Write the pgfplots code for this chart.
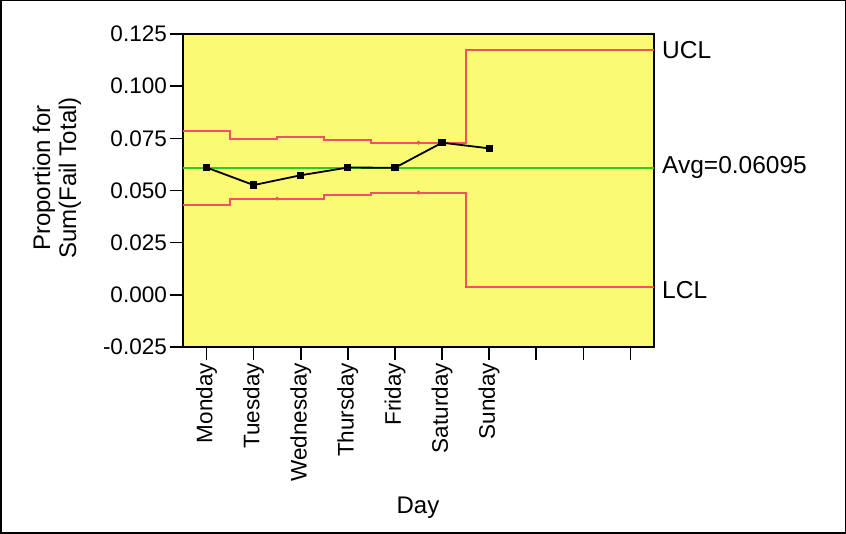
\documentclass[border=0pt]{standalone}
\usepackage{fontspec}
\setmainfont{Liberation Sans}
\usepackage{pgfplots}
\pgfplotsset{compat=1.18}
\definecolor{plotbg}{RGB}{250,250,115}
\definecolor{limred}{RGB}{240,80,105}
\definecolor{avggreen}{RGB}{40,205,40}
\begin{document}
\begin{tikzpicture}
\useasboundingbox (0pt,0pt) rectangle (846pt,534pt);
\draw[line width=1.5pt] (0.75pt,0.75pt) rectangle (845.25pt,533.25pt);
\begin{axis}[
  at={(183pt,187pt)}, anchor=south west,
  scale only axis, width=471pt, height=313pt,
  xmin=-0.5, xmax=9.5, ymin=-0.025, ymax=0.125,
  axis background/.style={fill=plotbg},
  axis line style={line width=1.5pt},
  xtick={0,1,2,3,4,5,6,7,8,9},
  xticklabels={Monday,Tuesday,Wednesday,Thursday,Friday,Saturday,Sunday,{},{},{}},
  ytick={-0.025,0,0.025,0.05,0.075,0.1,0.125},
  yticklabels={-0.025,0.000,0.025,0.050,0.075,0.100,0.125},
  xtick pos=bottom, ytick pos=left,
  tick align=outside, major tick length=13pt,
  tick style={line width=1.5pt, black},
  xticklabel style={rotate=90, anchor=east, font=\fontsize{22.5}{26}\selectfont, inner xsep=3pt},
  yticklabel style={font=\fontsize{22.5}{26}\selectfont, inner xsep=3pt},
  clip=false,
]
\addplot[avggreen, line width=2pt] coordinates {(-0.5,0.06095) (9.5,0.06095)};
\addplot[limred, line width=2pt, const plot] coordinates {
  (-0.5,0.0787) (0.5,0.0748) (1.5,0.0758) (2.5,0.0740) (3.5,0.0729) (5.5,0.1175) (9.5,0.1175)};
\addplot[limred, line width=2pt, const plot] coordinates {
  (-0.5,0.0430) (0.5,0.0461) (2.5,0.0479) (3.5,0.0490) (5.5,0.0038) (9.5,0.0038)};
\addplot[only marks, mark=*, mark size=1.8pt, limred] coordinates {(1.5,0.0461) (4.5,0.0729) (4.5,0.0490)};
\addplot[black, line width=1.8pt, mark=square*, mark size=2.7pt] coordinates {
  (0,0.0610) (1,0.0526) (2,0.0573) (3,0.0610) (4,0.0609) (5,0.0729) (6,0.0702)};
\node[anchor=west, font=\fontsize{24.5}{28}\selectfont, inner xsep=0pt] at ([xshift=8pt]axis cs:9.5,0.1175) {UCL};
\node[anchor=west, font=\fontsize{24.5}{28}\selectfont, inner xsep=0pt] at ([xshift=8pt]axis cs:9.5,0.06095) {Avg=0.06095};
\node[anchor=west, font=\fontsize{24.5}{28}\selectfont, inner xsep=0pt] at ([xshift=8pt]axis cs:9.5,0.0025) {LCL};
\end{axis}
\node[rotate=90, align=center, font=\fontsize{24}{26}\selectfont] at (57pt,356pt) {Proportion for\\Sum(Fail Total)};
\node[font=\fontsize{24}{26}\selectfont] at (418pt,26pt) {Day};
\end{tikzpicture}
\end{document}
